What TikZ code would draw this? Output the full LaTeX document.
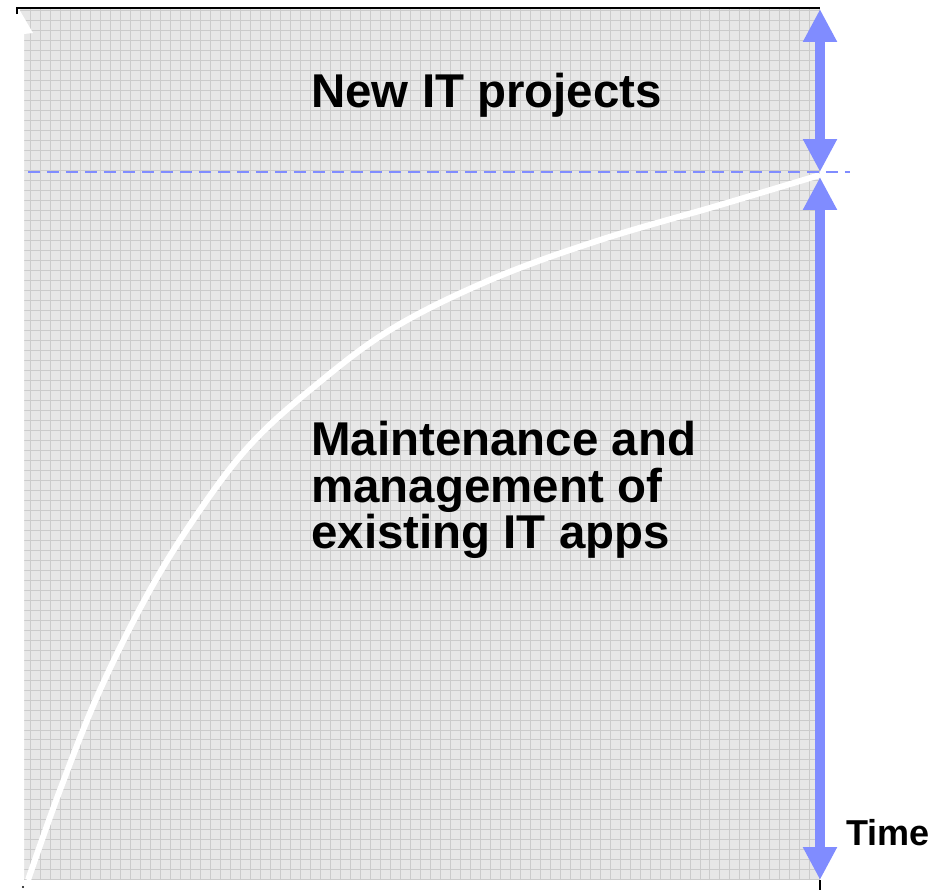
\documentclass[tikz,border=0pt]{standalone}
\usepackage{fontspec}
\setmainfont{Liberation Sans}
\usetikzlibrary{arrows.meta}

\definecolor{barblue}{RGB}{128,140,255}
\definecolor{chartgray}{RGB}{231,231,231}
\definecolor{gridgray}{RGB}{203,203,203}

\tikzstyle{bigtext} = [font=\bfseries\fontsize{27}{26.4}\selectfont, inner sep=0pt, align=left]
\tikzstyle{smalltext} = [font=\bfseries\fontsize{20.5}{24}\selectfont, inner sep=0pt]
\tikzstyle{spanarrow} = [barblue, line width=0.2cm,
    {Triangle[width=0.64cm,length=0.66cm]}-{Triangle[width=0.64cm,length=0.66cm]}]
\tikzstyle{level} = [barblue, line width=0.055cm, dash pattern=on 0.24cm off 0.14cm]

\begin{document}
\begin{tikzpicture}[x=0.02cm, y=-0.02cm]
    \useasboundingbox (0,0) rectangle (948,890);
    \fill[white] (0,0) rectangle (948,890);
    % chart area
    \fill[chartgray] (20,9) rectangle (820,880);
    \draw[gridgray, line width=0.4pt, step=0.2cm] (20,9) grid (820,880);
    \fill[white] (19,9) -- (33,33) -- (24,34) -- (24,881) -- (19,881) -- cycle;
    \draw[black, line width=0.04cm] (17,14) -- (17,8) -- (820,8);
    \draw[black, line width=0.03cm] (820,880) -- (820,890);
    \fill[black] (23,887) circle (1.2);

    \coordinate (top) at (820,9);
    \coordinate (mid) at (820,172);
    \coordinate (midlow) at (820,177);
    \coordinate (bottom) at (820,880);
    \coordinate (dashl) at (28,172);
    \coordinate (dashr) at (850,172);

    % growth curve
    \draw[white, line width=0.12cm] plot[smooth, tension=0.6] coordinates {
        (28,880) (60,790) (100,690) (150,590) (200,510) (250,445)
        (310,390) (390,330) (490,280) (600,240) (720,205) (820,175)};

    \draw[level] (dashl) -- (dashr);
    \draw[spanarrow] (top) -- (mid);
    \draw[spanarrow] (midlow) -- (bottom);

    \node[bigtext, anchor=base west] (newit) at (311,107) {New IT projects};
    \node[bigtext, anchor=north west] (maint) at (311,421)
        {Maintenance and\\management of\\existing IT apps};
    \node[smalltext, anchor=base west] (time) at (846,845) {Time};
\end{tikzpicture}
\end{document}
